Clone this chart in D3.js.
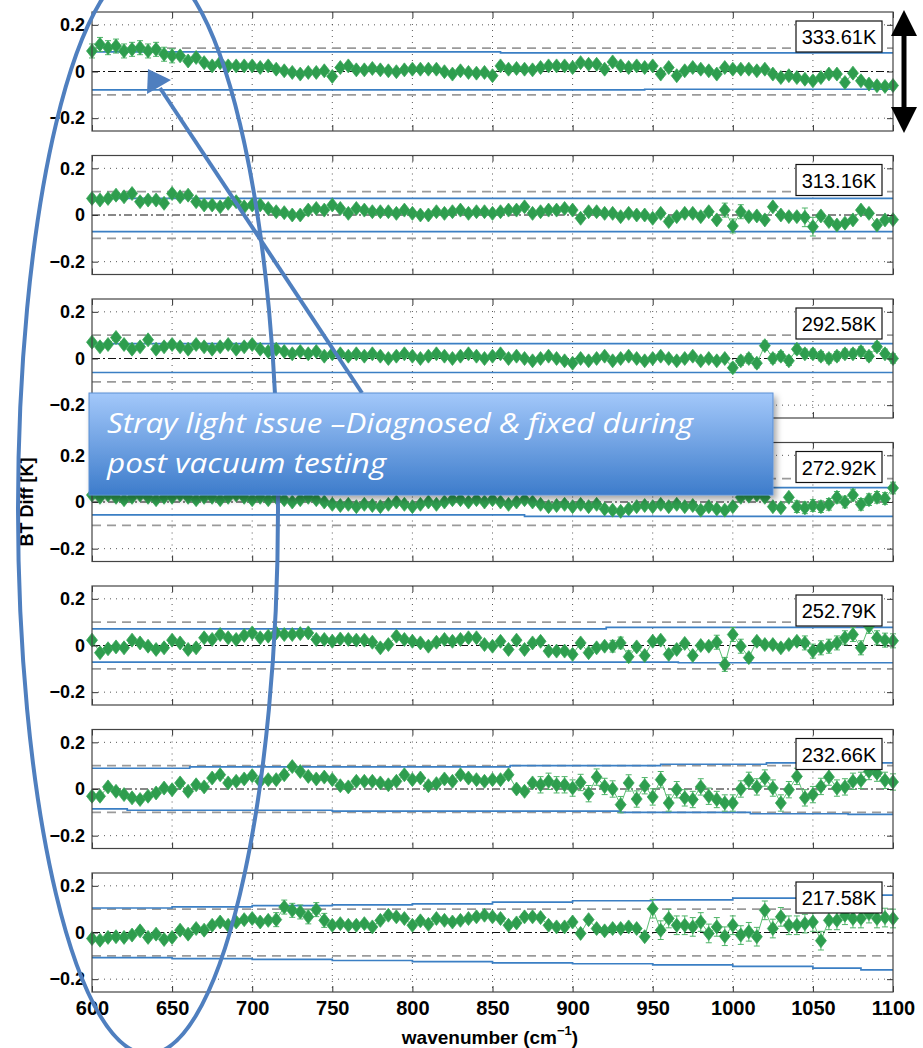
<!DOCTYPE html>
<html>
<head>
<meta charset="utf-8">
<script src="https://cdn.jsdelivr.net/npm/d3@7"></script>
<style>
body { margin: 0; background: #fff; }
svg { display: block; }
</style>
</head>
<body>
<script>
// wavenumber grid (cm-1), one point every 5
var wavenumbers = d3.range(600, 1101, 5);
var blackbodyTemps = ["333.61K", "313.16K", "292.58K", "272.92K", "252.79K", "232.66K", "217.58K"];

// BT difference [K] per blackbody temperature
var bt333 = [0.088,0.116,0.102,0.109,0.088,0.095,0.102,0.088,0.095,0.074,0.067,0.067,0.045,0.060,0.038,0.024,0.038,0.024,0.024,0.024,0.024,0.017,0.024,0.010,0.003,-0.004,-0.011,-0.004,-0.004,0.003,-0.021,0.017,0.024,0.007,0.007,0.013,0.007,0.003,-0.001,0.007,0.010,0.010,0.010,0.010,-0.001,-0.011,
  0.003,-0.004,-0.007,-0.004,-0.018,0.024,0.010,0.013,0.010,0.007,0.017,0.024,0.024,0.024,0.017,0.038,0.031,0.031,0.010,0.041,0.024,0.017,0.024,0.017,0.024,-0.011,0.017,-0.018,0.003,0.017,0.010,0.003,-0.011,0.017,0.010,0.010,0.010,0.003,0.010,-0.011,-0.026,-0.018,-0.026,-0.033,-0.040,-0.026,-0.011,-0.011,-0.047,-0.007,-0.040,-0.054,-0.061,-0.064,-0.060];
var bt313 = [0.071,0.064,0.071,0.085,0.078,0.092,0.057,0.064,0.064,0.050,0.092,0.078,0.085,0.057,0.043,0.043,0.035,0.050,0.057,0.035,0.043,0.043,0.028,0.014,0.010,0.000,0.000,0.021,0.028,0.021,0.043,0.028,0.007,0.028,0.021,0.014,0.014,0.014,0.007,0.021,0.007,0.000,0.000,0.014,0.007,0.014,
  0.021,0.007,0.014,0.014,0.007,0.014,0.021,0.021,0.035,0.007,0.014,0.021,0.021,0.028,0.021,-0.014,0.014,0.014,0.007,0.007,-0.007,0.007,0.000,0.000,-0.014,0.007,-0.028,-0.007,0.007,0.007,-0.007,0.014,-0.021,0.021,-0.047,0.014,-0.007,-0.004,-0.021,0.035,0.000,-0.007,-0.007,-0.010,-0.050,-0.004,-0.028,-0.043,-0.035,-0.021,0.021,0.007,-0.043,-0.021,-0.020];
var bt292 = [0.07,0.05,0.06,0.09,0.06,0.04,0.05,0.08,0.04,0.05,0.06,0.05,0.04,0.06,0.05,0.04,0.05,0.06,0.04,0.05,
  0.06,0.04,0.03,0.04,0.03,0.02,0.03,0.02,0.03,0.01,0.02,0.02,0.01,0.02,0.01,0.02,0.01,0.00,0.01,0.02,
  0.01,0.00,0.01,0.02,0.01,0.00,0.01,0.02,0.01,0.00,0.01,0.02,0.00,0.01,0.00,-0.01,0.00,0.01,0.00,-0.01,
  -0.02,0.00,-0.01,0.00,0.01,-0.01,0.00,0.01,0.00,-0.01,0.00,0.01,0.00,-0.01,0.00,0.01,-0.01,0.00,-0.01,0.00,
  -0.04,-0.01,0.00,-0.02,0.055,0.00,0.01,-0.01,0.04,0.02,0.02,0.01,0.00,0.01,0.02,0.02,0.03,0.01,0.05,0.02,0.00];
var bt272 = [0.03,0.02,0.03,0.02,0.01,0.02,0.03,0.02,0.01,0.02,0.02,0.03,0.02,0.01,0.02,0.02,0.01,0.02,0.03,0.02,0.01,0.02,0.01,0.02,0.01,0.00,0.01,0.02,0.01,0.00,-0.01,-0.015,-0.01,-0.02,-0.01,-0.015,-0.02,-0.01,0.00,-0.01,-0.02,-0.01,0.00,-0.01,0.00,0.01,
  0.01,0.00,0.01,0.00,0.01,0.00,-0.01,0.00,0.01,0.00,-0.01,-0.02,-0.015,-0.01,-0.02,-0.01,-0.02,-0.01,-0.03,-0.035,-0.04,-0.03,-0.02,-0.015,-0.02,-0.01,-0.02,-0.01,-0.02,-0.015,-0.035,-0.02,-0.03,-0.035,-0.02,0.02,0.025,0.03,0.02,-0.02,-0.025,0.02,-0.02,-0.025,-0.015,-0.02,-0.01,0.02,0.00,0.03,-0.01,0.01,0.02,0.015,0.06];
var bt252 = [0.023,-0.031,-0.014,-0.006,-0.010,0.023,0.011,-0.003,-0.017,-0.010,0.023,0.011,-0.017,-0.010,0.033,0.026,0.047,0.033,0.026,0.043,0.054,0.033,0.040,0.054,0.047,0.047,0.051,0.054,0.026,0.026,0.018,0.028,0.026,0.023,0.023,0.014,-0.010,0.004,0.040,0.026,0.018,0.011,-0.003,0.014,0.026,0.018,
  0.026,0.033,0.033,0.004,-0.003,0.018,-0.017,0.023,-0.017,0.011,0.018,-0.024,-0.024,-0.024,-0.038,0.011,-0.031,-0.010,-0.003,-0.003,0.011,-0.048,-0.006,-0.043,0.018,0.023,-0.038,-0.017,0.009,-0.043,0.000,-0.003,0.014,-0.081,0.047,-0.003,-0.052,0.018,0.004,0.004,-0.010,0.004,0.018,0.011,-0.024,-0.010,-0.003,0.011,0.033,0.047,-0.010,0.082,0.033,0.023,0.020];
var bt232 = [-0.031,-0.031,0.009,-0.010,-0.024,-0.038,-0.045,-0.031,-0.017,0.004,-0.003,0.026,-0.010,0.018,0.009,0.047,0.061,0.026,0.033,0.043,0.057,0.033,0.040,0.040,0.061,0.096,0.075,0.054,0.043,0.051,0.040,0.014,0.009,0.033,0.033,0.033,0.026,0.018,0.033,0.061,0.040,0.047,0.014,0.023,0.043,0.033,
  0.061,0.047,0.040,0.033,0.040,0.040,0.061,0.000,-0.010,0.026,0.018,0.033,0.018,0.018,0.004,0.028,-0.020,0.051,0.011,0.000,-0.067,0.026,-0.043,0.014,-0.034,0.040,-0.060,-0.003,-0.038,-0.045,0.009,-0.031,-0.045,-0.060,-0.060,0.000,0.037,0.009,0.047,0.004,-0.060,-0.003,0.054,-0.038,-0.024,0.011,0.051,0.004,0.009,0.033,0.037,0.075,0.068,0.037,0.030];
var bt217 = [-0.026,-0.033,-0.021,-0.018,-0.021,-0.011,0.007,-0.021,-0.007,-0.030,-0.021,0.010,-0.007,0.017,0.010,0.031,0.045,0.031,0.045,0.055,0.060,0.045,0.052,0.055,0.109,0.095,0.088,0.067,0.098,0.052,0.031,0.038,0.031,0.031,0.038,0.024,0.052,0.074,0.067,0.060,0.031,0.050,0.035,0.060,0.052,0.045,
  0.052,0.060,0.067,0.074,0.067,0.060,0.031,0.041,0.067,0.067,0.064,0.031,0.024,0.024,0.045,-0.004,0.055,0.017,0.007,0.017,0.017,0.024,0.017,-0.018,0.102,0.010,0.060,0.031,0.031,0.024,0.045,-0.004,0.024,-0.016,0.031,-0.011,0.003,-0.018,0.095,0.017,0.067,0.031,0.031,0.038,0.045,-0.035,0.052,0.052,0.074,0.060,0.060,0.081,0.060,0.064,0.060];
var series = [bt333, bt313, bt292, bt272, bt252, bt232, bt217];

// error bar half-widths: a base per panel plus wider stretches [panel, from, to, err]
var errBase = [0.01, 0.01, 0.01, 0.01, 0.01, 0.012, 0.012];
var errWide = [[0,600,650,0.03],[1,995,1005,0.03],[1,1045,1050,0.04],[2,1000,1100,0.02],[3,1040,1100,0.025],
  [4,925,935,0.025],[4,990,1005,0.03],[4,1045,1100,0.03],[5,880,1100,0.035],[6,715,745,0.03],[6,950,1100,0.04]];

// blue uncertainty limits, step breakpoints [wavenumber, value]
var upperLim = [
  [[600,0.084],[855,0.080]],
  [[600,0.071]],
  [[600,0.064]],
  [[600,0.062]],
  [[600,0.071],[921,0.078]],
  [[600,0.089],[661,0.095],[861,0.100],[955,0.106],[1021,0.112]],
  [[600,0.105],[650,0.110],[700,0.115],[750,0.118],[800,0.123],[850,0.130],[900,0.136],[950,0.140],[1000,0.147],[1050,0.153],[1085,0.160]]
];
var lowerLim = [
  [[600,-0.079],[945,-0.076]],
  [[600,-0.071]],
  [[600,-0.060]],
  [[600,-0.055],[870,-0.062]],
  [[600,-0.071],[966,-0.074]],
  [[600,-0.085],[622,-0.091],[750,-0.095],[930,-0.100],[1011,-0.106],[1072,-0.109]],
  [[600,-0.108],[650,-0.112],[700,-0.115],[750,-0.120],[800,-0.125],[850,-0.130],[900,-0.134],[950,-0.139],[1000,-0.145],[1050,-0.153],[1080,-0.160]]
];
var specLimit = [0.1, -0.1];
var xTicks = [600, 650, 700, 750, 800, 850, 900, 950, 1000, 1050, 1100];
var yTicks = [-0.2, 0, 0.2];

var W = 923, H = 1048;
var svg = d3.select("body").append("svg").attr("width", W).attr("height", H);

var defs = svg.append("defs");
var grad = defs.append("linearGradient").attr("id", "boxGrad").attr("x1", 0).attr("y1", 0).attr("x2", 0).attr("y2", 1);
grad.append("stop").attr("offset", "0%").attr("stop-color", "#a3c8fa");
grad.append("stop").attr("offset", "100%").attr("stop-color", "#3d7ccb");
var shadow = defs.append("filter").attr("id", "shadow").attr("x", "-5%").attr("y", "-10%").attr("width", "115%").attr("height", "135%");
shadow.append("feDropShadow").attr("dx", 3).attr("dy", 4).attr("stdDeviation", 3).attr("flood-color", "#000").attr("flood-opacity", 0.35);

var x = d3.scaleLinear().domain([600, 1100]).range([92, 893]);
var panelH = 119, panelStep = 143.5, firstTop = 12;
var green = "#2e9d4e";

function errAt(p, w) {
  var e = errBase[p];
  errWide.forEach(function(r) { if (r[0] === p && w >= r[1] && w <= r[2]) e = r[3]; });
  return e;
}
function fmtY(d) { return d === 0 ? "0" : (d < 0 ? "\u22120.2" : "0.2"); }

series.forEach(function(vals, p) {
  var top = firstTop + p * panelStep;
  var y = d3.scaleLinear().domain([-0.255, 0.255]).range([top + panelH, top]);
  var g = svg.append("g");

  // white plot area
  g.append("rect").attr("x", 92).attr("y", top).attr("width", 801).attr("height", panelH).attr("fill", "#fff");

  // dotted grid
  g.selectAll(".vg").data(xTicks.slice(1, -1)).enter().append("line")
    .attr("x1", d => x(d)).attr("x2", d => x(d)).attr("y1", top).attr("y2", top + panelH)
    .attr("stroke", "#444").attr("stroke-width", 0.9).attr("stroke-dasharray", "1,5");
  g.selectAll(".hg").data([-0.2, 0.2]).enter().append("line")
    .attr("x1", 92).attr("x2", 893).attr("y1", d => y(d)).attr("y2", d => y(d))
    .attr("stroke", "#444").attr("stroke-width", 0.9).attr("stroke-dasharray", "1,5");

  // gray dashed spec lines and zero dash-dot line
  g.selectAll(".spec").data(specLimit).enter().append("line")
    .attr("x1", 92).attr("x2", 893).attr("y1", d => y(d)).attr("y2", d => y(d))
    .attr("stroke", "#9a9a9a").attr("stroke-width", 1.6).attr("stroke-dasharray", "9,6");
  g.append("line").attr("x1", 92).attr("x2", 893).attr("y1", y(0)).attr("y2", y(0))
    .attr("stroke", "#111").attr("stroke-width", 1).attr("stroke-dasharray", "8,3,2,3");

  // blue limit step lines
  var stepLine = d3.line().x(d => x(d[0])).y(d => y(d[1])).curve(d3.curveStepAfter);
  [upperLim[p], lowerLim[p]].forEach(function(bp) {
    var pts = bp.concat([[1100, bp[bp.length - 1][1]]]);
    g.append("path").attr("d", stepLine(pts)).attr("fill", "none")
      .attr("stroke", "#3b7fc4").attr("stroke-width", 1.7);
  });

  var pts = vals.map(function(v, i) { return { w: wavenumbers[i], v: v, e: errAt(p, wavenumbers[i]) }; });

  // connecting line
  g.append("path").datum(pts)
    .attr("d", d3.line().x(d => x(d.w)).y(d => y(d.v)))
    .attr("fill", "none").attr("stroke", "#5cbf74").attr("stroke-width", 1);

  // error bars
  var eb = g.selectAll(".eb").data(pts).enter().append("g").attr("stroke", "#4fb468").attr("stroke-width", 1);
  eb.append("line").attr("x1", d => x(d.w)).attr("x2", d => x(d.w)).attr("y1", d => y(d.v - d.e)).attr("y2", d => y(d.v + d.e));
  eb.append("line").attr("x1", d => x(d.w) - 3).attr("x2", d => x(d.w) + 3).attr("y1", d => y(d.v - d.e)).attr("y2", d => y(d.v - d.e));
  eb.append("line").attr("x1", d => x(d.w) - 3).attr("x2", d => x(d.w) + 3).attr("y1", d => y(d.v + d.e)).attr("y2", d => y(d.v + d.e));

  // diamond markers
  g.selectAll(".mk").data(pts).enter().append("path")
    .attr("transform", d => "translate(" + x(d.w) + "," + y(d.v) + ")")
    .attr("d", "M0,-7L5.5,0L0,7L-5.5,0Z")
    .attr("fill", green).attr("stroke", "#3aa85a").attr("stroke-width", 0.8);

  // axes with inward ticks
  var axL = g.append("g").attr("transform", "translate(92,0)")
    .call(d3.axisLeft(y).tickValues(yTicks).tickSizeInner(-6).tickSizeOuter(0).tickPadding(7).tickFormat(fmtY));
  axL.selectAll("text").attr("font-family", "Liberation Sans, Arial, sans-serif").attr("font-weight", "bold")
    .attr("font-size", 18).attr("fill", "#000");
  g.append("g").attr("transform", "translate(893,0)")
    .call(d3.axisRight(y).tickValues(yTicks).tickSizeInner(-6).tickSizeOuter(0).tickFormat(""));
  g.append("g").attr("transform", "translate(0," + top + ")")
    .call(d3.axisTop(x).tickValues(xTicks).tickSizeInner(-6).tickSizeOuter(0).tickFormat(""));
  var axB = g.append("g").attr("transform", "translate(0," + (top + panelH) + ")")
    .call(d3.axisBottom(x).tickValues(xTicks).tickSizeInner(-6).tickSizeOuter(0).tickPadding(9)
      .tickFormat(p === series.length - 1 ? d3.format("d") : ""));
  axB.selectAll("text").attr("font-family", "Liberation Sans, Arial, sans-serif").attr("font-weight", "bold")
    .attr("font-size", 20).attr("fill", "#000");
  g.selectAll(".domain").remove();
  g.selectAll(".tick line").attr("stroke", "#333");

  // frame
  g.append("rect").attr("x", 92).attr("y", top).attr("width", 801).attr("height", panelH)
    .attr("fill", "none").attr("stroke", "#444").attr("stroke-width", 1.2);

  // temperature label
  g.append("rect").attr("x", 796).attr("y", top + 9).attr("width", 86).attr("height", 31)
    .attr("fill", "#fff").attr("stroke", "#111").attr("stroke-width", 1.2);
  g.append("text").attr("x", 839).attr("y", top + 32).attr("text-anchor", "middle")
    .attr("font-family", "Liberation Sans, Arial, sans-serif").attr("font-size", 20).attr("fill", "#000")
    .text(blackbodyTemps[p]);
});

// axis titles
svg.append("text").attr("transform", "translate(33,502) rotate(-90)").attr("text-anchor", "middle")
  .attr("font-family", "Liberation Sans, Arial, sans-serif").attr("font-weight", "bold").attr("font-size", 18)
  .text("BT Diff [K]");
var xl = svg.append("text").attr("x", 490).attr("y", 1044).attr("text-anchor", "middle")
  .attr("font-family", "Liberation Sans, Arial, sans-serif").attr("font-weight", "bold").attr("font-size", 19);
xl.append("tspan").text("wavenumber (cm");
xl.append("tspan").attr("dy", -9).attr("font-size", 13).text("\u22121");
xl.append("tspan").attr("dy", 9).text(")");

// right double-headed arrow
svg.append("line").attr("x1", 904).attr("x2", 904).attr("y1", 30).attr("y2", 112)
  .attr("stroke", "#000").attr("stroke-width", 5);
svg.append("path").attr("d", "M904,10L917,36L891,36Z").attr("fill", "#000");
svg.append("path").attr("d", "M904,133L917,107L891,107Z").attr("fill", "#000");

// annotation: ellipse, arrow, callout
var accent = "#4f7fbf";
svg.append("ellipse").attr("cx", 148).attr("cy", 509).attr("rx", 130).attr("ry", 545)
  .attr("fill", "none").attr("stroke", accent).attr("stroke-width", 4);
svg.append("line").attr("x1", 362).attr("y1", 393).attr("x2", 160).attr("y2", 88)
  .attr("stroke", accent).attr("stroke-width", 4);
svg.append("path").attr("d", "M148,69L147,94L171,80Z").attr("fill", accent);

svg.append("rect").attr("x", 89).attr("y", 393).attr("width", 684).attr("height", 102)
  .attr("fill", "url(#boxGrad)").attr("stroke", "#5b8fd3").attr("stroke-width", 1).attr("filter", "url(#shadow)");
var cap = svg.append("g").attr("font-family", "Open Sans, Lato, sans-serif").attr("font-style", "italic")
  .attr("font-size", 28).attr("fill", "#fff");
cap.append("text").attr("x", 107).attr("y", 433).attr("textLength", 586).attr("lengthAdjust", "spacingAndGlyphs")
  .text("Stray light issue \u2013Diagnosed & fixed during");
cap.append("text").attr("x", 107).attr("y", 473).attr("textLength", 279).attr("lengthAdjust", "spacingAndGlyphs")
  .text("post vacuum testing");
</script>
</body>
</html>
